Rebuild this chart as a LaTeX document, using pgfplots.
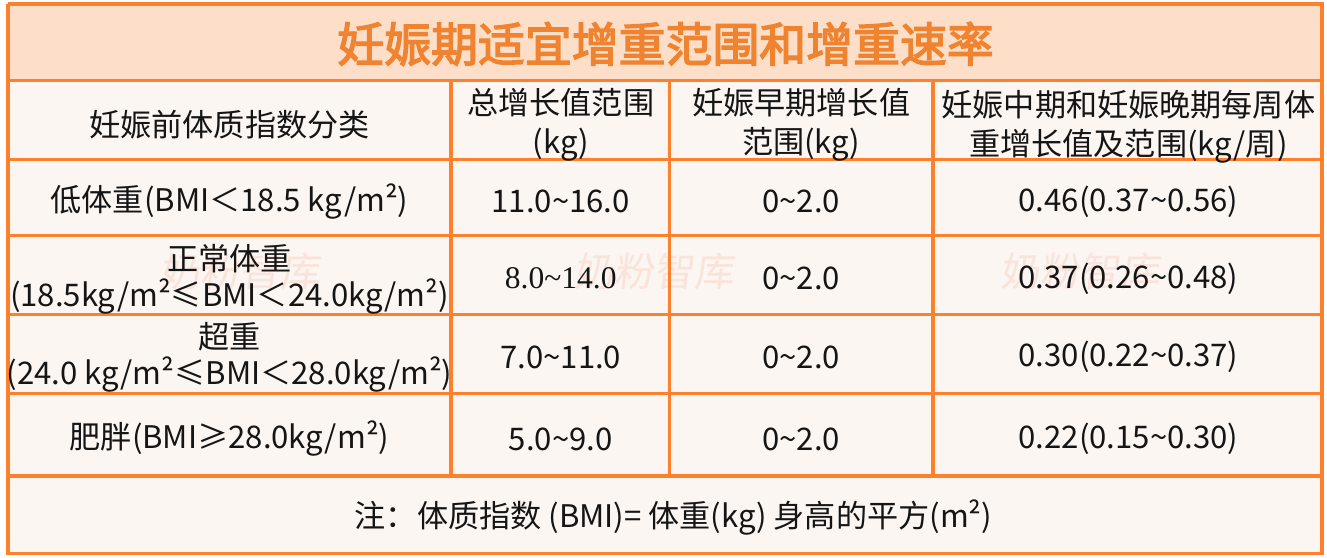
\documentclass[border=0pt]{standalone}
\usepackage{pgfplots}
\pgfplotsset{compat=1.18}
\usepackage{fontspec}
\setmainfont{Noto Sans CJK SC}
\newfontfamily\titlefont{Noto Sans CJK SC}[FakeBold=3]
\newfontfamily\serifnum{Liberation Serif}
\definecolor{bord}{HTML}{FD802D}
\definecolor{titlebg}{HTML}{FCDEC9}
\definecolor{bodybg}{HTML}{FCF6F2}
\definecolor{titletxt}{HTML}{F0832F}
\definecolor{txt}{HTML}{151515}
\definecolor{wm}{HTML}{FAE3DA}
\begin{document}
\begin{tikzpicture}
\begin{axis}[
  scale only axis, width=663.5pt, height=279.5pt,
  xmin=0, xmax=1327, ymin=0, ymax=559, y dir=reverse,
  hide axis, clip=false,
]
% page background
\addplot[fill=white, draw=none] coordinates {(0,0) (1327,0) (1327,559) (0,559) (0,0)};
% body background
\addplot[fill=bodybg, draw=none] coordinates {(5,81) (1322,81) (1322,555) (5,555) (5,81)};
% title background
\addplot[fill=titlebg, draw=none] coordinates {(5,4) (1322,4) (1322,81) (5,81) (5,4)};

% watermark text
\node[text=wm, font=\fontsize{20}{24}\selectfont, xslant=0.12] at (axis cs:240,272) {奶粉智库};
\node[text=wm, font=\fontsize{20}{24}\selectfont, xslant=0.12] at (axis cs:655,272) {奶粉智库};
\node[text=wm, font=\fontsize{20}{24}\selectfont, xslant=0.12] at (axis cs:1082,272) {奶粉智库};

% grid lines
\addplot[draw=bord, line width=1.6pt] coordinates {(5,81) (1322,81)};
\addplot[draw=bord, line width=1.6pt] coordinates {(5,160) (1322,160)};
\addplot[draw=bord, line width=1.6pt] coordinates {(5,236) (1322,236)};
\addplot[draw=bord, line width=1.6pt] coordinates {(5,315) (1322,315)};
\addplot[draw=bord, line width=1.6pt] coordinates {(5,394) (1322,394)};
\addplot[draw=bord, line width=1.6pt] coordinates {(5,477) (1322,477)};
\addplot[draw=bord, line width=1.6pt] coordinates {(449,81) (449,477)};
\addplot[draw=bord, line width=1.6pt] coordinates {(668,81) (668,477)};
\addplot[draw=bord, line width=1.6pt] coordinates {(932,81) (932,477)};
% outer frame
\addplot[draw=bord, line width=1.6pt] coordinates {(5,4) (1322,4) (1322,555) (5,555) (5,4)};

% title
\node[text=titletxt, font=\titlefont\fontsize{23.5}{28}\selectfont] at (axis cs:664,44) {妊娠期适宜增重范围和增重速率};

\begin{scope}[every node/.style={text=txt, align=center, font=\fontsize{15.6}{19.5}\selectfont}]
% header
\node at (axis cs:227,125) {妊娠前体质指数分类};
\node at (axis cs:559,125) {总增长值范围\\(kg)};
\node at (axis cs:800,125) {妊娠早期增长值\\范围(kg)};
\node at (axis cs:1128,127) {妊娠中期和妊娠晚期每周体\\重增长值及范围(kg/周)};
% row 1
\node at (axis cs:227,202) {低体重(BMI＜18.5 kg/m²)};
\node at (axis cs:559,202) {11.0\textasciitilde16.0};
\node at (axis cs:800,202) {0\textasciitilde2.0};
\node at (axis cs:1128,202) {0.46(0.37\textasciitilde0.56)};
% row 2
\node[font=\fontsize{15.6}{18}\selectfont] at (axis cs:227,280) {正常体重\\(18.5kg/m²≤BMI＜24.0kg/m²)};
\node[font=\serifnum\fontsize{15.8}{19}\selectfont] at (axis cs:559,279) {8.0\textasciitilde14.0};
\node at (axis cs:800,279) {0\textasciitilde2.0};
\node at (axis cs:1128,279) {0.37(0.26\textasciitilde0.48)};
% row 3
\node[font=\fontsize{15.6}{18}\selectfont] at (axis cs:227,358) {超重\\(24.0 kg/m²≤BMI＜28.0kg/m²)};
\node at (axis cs:559,358) {7.0\textasciitilde11.0};
\node at (axis cs:800,358) {0\textasciitilde2.0};
\node at (axis cs:1128,358) {0.30(0.22\textasciitilde0.37)};
% row 4
\node at (axis cs:227,440) {肥胖(BMI≥28.0kg/m²)};
\node at (axis cs:559,440) {5.0\textasciitilde9.0};
\node at (axis cs:800,440) {0\textasciitilde2.0};
\node at (axis cs:1128,440) {0.22(0.15\textasciitilde0.30)};
% footer
\node at (axis cs:672,519) {注：体质指数 (BMI)= 体重(kg) 身高的平方(m²)};
\end{scope}
\end{axis}
\end{tikzpicture}
\end{document}
